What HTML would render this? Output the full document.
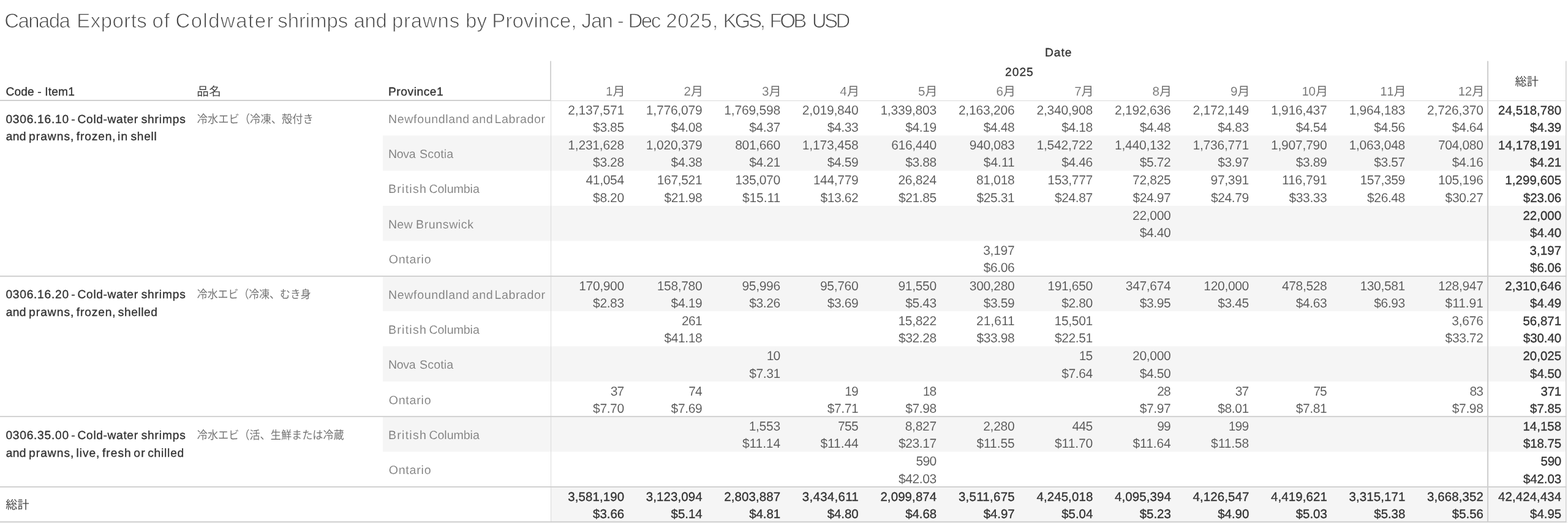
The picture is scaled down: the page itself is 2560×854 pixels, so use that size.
<!DOCTYPE html>
<html lang="en"><head><meta charset="utf-8"><title>Canada Exports of Coldwater shrimps and prawns by Province</title>
<style>
html,body{margin:0;padding:0;background:#fff;}
body{width:2560px;height:854px;overflow:hidden;}
svg{display:block;will-change:transform;}
svg text{font-family:"Liberation Sans",sans-serif;white-space:pre;text-rendering:geometricPrecision;}
svg text.cjk{font-family:"Liberation Sans","Noto Sans CJK JP",sans-serif;}
</style></head><body>
<svg width="2560" height="854" viewBox="0 0 2560 854">
<desc>Code - Item1 / 品名 / Province1 / Date 2025 1月–12月 / 総計. 冷水エビ（冷凍、殻付き; 冷水エビ（冷凍、むき身; 冷水エビ（活、生鮮または冷蔵</desc>
<rect x="625" y="221.36" width="1932" height="57.36" fill="#f5f5f5"/>
<rect x="625" y="336.08" width="1932" height="57.36" fill="#f5f5f5"/>
<rect x="625" y="450.8" width="1932" height="57.36" fill="#f5f5f5"/>
<rect x="625" y="565.52" width="1932" height="57.36" fill="#f5f5f5"/>
<rect x="625" y="680.24" width="1932" height="57.36" fill="#f5f5f5"/>
<rect x="899.5" y="794.96" width="1657.5" height="57.36" fill="#f5f5f5"/>
<rect x="0" y="853.1" width="2560" height="0.9" fill="#f7f7f7"/>
<rect x="898" y="99.6" width="2" height="64.4" fill="#d3d3d3"/>
<rect x="899" y="164" width="1" height="688.5" fill="#dadada"/>
<rect x="2428.1" y="99.6" width="2" height="752.9" fill="#cecece"/>
<rect x="2556" y="99.6" width="1.4" height="753.4" fill="#d0d0d0"/>
<rect x="2557.4" y="99.6" width="0.8" height="753.4" fill="#e6e6e6"/>
<rect x="0" y="163" width="899" height="2" fill="#cfcfcf"/>
<rect x="899" y="164" width="1658" height="1" fill="#dadada"/>
<rect x="0" y="450.08" width="2557.5" height="1.84" fill="#cecece"/>
<rect x="0" y="679.23" width="2557.5" height="1.84" fill="#cecece"/>
<rect x="0" y="794.13" width="2557.5" height="1.84" fill="#cecece"/>
<rect x="0" y="851.28" width="2557.5" height="1.84" fill="#cecece"/>
<text x="7.17" y="44.8" font-size="33" fill="#4a4a4a" textLength="107.68" lengthAdjust="spacing" stroke="#fff" stroke-width="0.9">Canada</text>
<text x="125.24" y="44.8" font-size="33" fill="#4a4a4a" textLength="114.6" lengthAdjust="spacing" stroke="#fff" stroke-width="0.9">Exports</text>
<text x="248.46" y="44.8" font-size="33" fill="#4a4a4a" textLength="28.54" lengthAdjust="spacing" stroke="#fff" stroke-width="0.9">of</text>
<text x="286.57" y="44.8" font-size="33" fill="#4a4a4a" textLength="159.82" lengthAdjust="spacing" stroke="#fff" stroke-width="0.9">Coldwater</text>
<text x="453.33" y="44.8" font-size="33" fill="#4a4a4a" textLength="114.91" lengthAdjust="spacing" stroke="#fff" stroke-width="0.9">shrimps</text>
<text x="577.45" y="44.8" font-size="33" fill="#4a4a4a" textLength="54.53" lengthAdjust="spacing" stroke="#fff" stroke-width="0.9">and</text>
<text x="639.92" y="44.8" font-size="33" fill="#4a4a4a" textLength="110.22" lengthAdjust="spacing" stroke="#fff" stroke-width="0.9">prawns</text>
<text x="759.92" y="44.8" font-size="33" fill="#4a4a4a" textLength="34.99" lengthAdjust="spacing" stroke="#fff" stroke-width="0.9">by</text>
<text x="803.34" y="44.8" font-size="33" fill="#4a4a4a" textLength="137.97" lengthAdjust="spacing" stroke="#fff" stroke-width="0.9">Province,</text>
<text x="949.33" y="44.8" font-size="33" fill="#4a4a4a" textLength="51.46" lengthAdjust="spacing" stroke="#fff" stroke-width="0.9">Jan</text>
<text x="1007.66" y="44.8" font-size="33" fill="#4a4a4a" stroke="#fff" stroke-width="0.9">-</text>
<text x="1025.54" y="44.8" font-size="33" fill="#4a4a4a" textLength="53.68" lengthAdjust="spacing" stroke="#fff" stroke-width="0.9">Dec</text>
<text x="1087.29" y="44.8" font-size="33" fill="#4a4a4a" textLength="84.92" lengthAdjust="spacing" stroke="#fff" stroke-width="0.9">2025,</text>
<text x="1180.54" y="44.8" font-size="33" fill="#4a4a4a" textLength="69.47" lengthAdjust="spacing" stroke="#fff" stroke-width="0.9">KGS,</text>
<text x="1256.54" y="44.8" font-size="33" fill="#4a4a4a" textLength="60.75" lengthAdjust="spacing" stroke="#fff" stroke-width="0.9">FOB</text>
<text x="1325.7" y="44.8" font-size="33" fill="#4a4a4a" textLength="62.63" lengthAdjust="spacing" stroke="#fff" stroke-width="0.9">USD</text>
<text x="9.4" y="156.2" font-size="19.2" fill="#333" textLength="112.45" lengthAdjust="spacing" stroke="#333" stroke-width="0.36">Code - Item1</text>
<text x="634" y="156.2" font-size="19.2" fill="#333" textLength="89.75" lengthAdjust="spacing" stroke="#333" stroke-width="0.36">Province1</text>
<text x="1706.01" y="92.3" font-size="19.2" fill="#333" textLength="43.47" lengthAdjust="spacing" stroke="#333" stroke-width="0.36">Date</text>
<text x="1641.11" y="124.2" font-size="19.2" fill="#333" textLength="45.61" lengthAdjust="spacing" stroke="#333" stroke-width="0.36">2025</text>
<text class="cjk" x="321.14" y="155.7" font-size="19.6" fill="#444" textLength="39.8" lengthAdjust="spacing">品名</text>
<text class="cjk" x="2473.54" y="139.9" font-size="19.2" fill="#444" textLength="38.5" lengthAdjust="spacing">総計</text>
<text class="cjk" x="1000.41" y="155.7" font-size="20" fill="#6c6c6c">月</text>
<text x="1000.4" y="156.1" font-size="20.5" fill="#6c6c6c" text-anchor="end" stroke="#fff" stroke-width="0.15">1</text>
<text class="cjk" x="1127.93" y="155.7" font-size="20" fill="#6c6c6c">月</text>
<text x="1127.95" y="156.1" font-size="20.5" fill="#6c6c6c" text-anchor="end" stroke="#fff" stroke-width="0.15">2</text>
<text class="cjk" x="1255.45" y="155.7" font-size="20" fill="#6c6c6c">月</text>
<text x="1255.34" y="156.1" font-size="20.5" fill="#6c6c6c" text-anchor="end" stroke="#fff" stroke-width="0.15">3</text>
<text class="cjk" x="1382.97" y="155.7" font-size="20" fill="#6c6c6c">月</text>
<text x="1382.56" y="156.1" font-size="20.5" fill="#6c6c6c" text-anchor="end" stroke="#fff" stroke-width="0.15">4</text>
<text class="cjk" x="1510.49" y="155.7" font-size="20" fill="#6c6c6c">月</text>
<text x="1510.34" y="156.1" font-size="20.5" fill="#6c6c6c" text-anchor="end" stroke="#fff" stroke-width="0.15">5</text>
<text class="cjk" x="1638.01" y="155.7" font-size="20" fill="#6c6c6c">月</text>
<text x="1637.9" y="156.1" font-size="20.5" fill="#6c6c6c" text-anchor="end" stroke="#fff" stroke-width="0.15">6</text>
<text class="cjk" x="1765.53" y="155.7" font-size="20" fill="#6c6c6c">月</text>
<text x="1765.55" y="156.1" font-size="20.5" fill="#6c6c6c" text-anchor="end" stroke="#fff" stroke-width="0.15">7</text>
<text class="cjk" x="1893.05" y="155.7" font-size="20" fill="#6c6c6c">月</text>
<text x="1892.93" y="156.1" font-size="20.5" fill="#6c6c6c" text-anchor="end" stroke="#fff" stroke-width="0.15">8</text>
<text class="cjk" x="2020.57" y="155.7" font-size="20" fill="#6c6c6c">月</text>
<text x="2020.53" y="156.1" font-size="20.5" fill="#6c6c6c" text-anchor="end" stroke="#fff" stroke-width="0.15">9</text>
<text class="cjk" x="2148.09" y="155.7" font-size="20" fill="#6c6c6c">月</text>
<text x="2147.88" y="156.1" font-size="20.5" fill="#6c6c6c" text-anchor="end" textLength="22.4" lengthAdjust="spacing" stroke="#fff" stroke-width="0.15">10</text>
<text class="cjk" x="2275.61" y="155.7" font-size="20" fill="#6c6c6c">月</text>
<text x="2275.6" y="156.1" font-size="20.5" fill="#6c6c6c" text-anchor="end" textLength="22.4" lengthAdjust="spacing" stroke="#fff" stroke-width="0.15">11</text>
<text class="cjk" x="2403.13" y="155.7" font-size="20" fill="#6c6c6c">月</text>
<text x="2403.15" y="156.1" font-size="20.5" fill="#6c6c6c" text-anchor="end" textLength="22.4" lengthAdjust="spacing" stroke="#fff" stroke-width="0.15">12</text>
<text x="9.43" y="200.6" font-size="19.2" fill="#333" textLength="102.64" lengthAdjust="spacing" stroke="#333" stroke-width="0.36">0306.16.10</text>
<text x="116.25" y="200.6" font-size="19.2" fill="#333" stroke="#333" stroke-width="0.36">-</text>
<text x="126.61" y="200.6" font-size="19.2" fill="#333" textLength="98.43" lengthAdjust="spacing" stroke="#333" stroke-width="0.36">Cold-water</text>
<text x="230.65" y="200.6" font-size="19.2" fill="#333" textLength="72.17" lengthAdjust="spacing" stroke="#333" stroke-width="0.36">shrimps</text>
<text x="9.76" y="229.3" font-size="19.2" fill="#333" textLength="32.69" lengthAdjust="spacing" stroke="#333" stroke-width="0.36">and</text>
<text x="47.04" y="229.3" font-size="19.2" fill="#333" textLength="73.3" lengthAdjust="spacing" stroke="#333" stroke-width="0.36">prawns,</text>
<text x="124.81" y="229.3" font-size="19.2" fill="#333" textLength="63.84" lengthAdjust="spacing" stroke="#333" stroke-width="0.36">frozen,</text>
<text x="192.1" y="229.3" font-size="19.2" fill="#333" textLength="16.17" lengthAdjust="spacing" stroke="#333" stroke-width="0.36">in</text>
<text x="213.55" y="229.3" font-size="19.2" fill="#333" textLength="42.26" lengthAdjust="spacing" stroke="#333" stroke-width="0.36">shell</text>
<text class="cjk" x="321.75" y="200.6" font-size="18.8" fill="#747474" textLength="190" lengthAdjust="spacingAndGlyphs">冷水エビ（冷凍、殻付き</text>
<text x="9.43" y="487.4" font-size="19.2" fill="#333" textLength="102.64" lengthAdjust="spacing" stroke="#333" stroke-width="0.36">0306.16.20</text>
<text x="116.25" y="487.4" font-size="19.2" fill="#333" stroke="#333" stroke-width="0.36">-</text>
<text x="126.61" y="487.4" font-size="19.2" fill="#333" textLength="98.43" lengthAdjust="spacing" stroke="#333" stroke-width="0.36">Cold-water</text>
<text x="230.65" y="487.4" font-size="19.2" fill="#333" textLength="72.17" lengthAdjust="spacing" stroke="#333" stroke-width="0.36">shrimps</text>
<text x="9.76" y="516.1" font-size="19.2" fill="#333" textLength="32.69" lengthAdjust="spacing" stroke="#333" stroke-width="0.36">and</text>
<text x="47.04" y="516.1" font-size="19.2" fill="#333" textLength="73.3" lengthAdjust="spacing" stroke="#333" stroke-width="0.36">prawns,</text>
<text x="124.81" y="516.1" font-size="19.2" fill="#333" textLength="63.84" lengthAdjust="spacing" stroke="#333" stroke-width="0.36">frozen,</text>
<text x="192.85" y="516.1" font-size="19.2" fill="#333" textLength="64.11" lengthAdjust="spacing" stroke="#333" stroke-width="0.36">shelled</text>
<text class="cjk" x="321.75" y="487.4" font-size="18.8" fill="#747474" textLength="186" lengthAdjust="spacingAndGlyphs">冷水エビ（冷凍、むき身</text>
<text x="9.43" y="716.84" font-size="19.2" fill="#333" textLength="102.64" lengthAdjust="spacing" stroke="#333" stroke-width="0.36">0306.35.00</text>
<text x="116.25" y="716.84" font-size="19.2" fill="#333" stroke="#333" stroke-width="0.36">-</text>
<text x="126.61" y="716.84" font-size="19.2" fill="#333" textLength="98.43" lengthAdjust="spacing" stroke="#333" stroke-width="0.36">Cold-water</text>
<text x="230.65" y="716.84" font-size="19.2" fill="#333" textLength="72.17" lengthAdjust="spacing" stroke="#333" stroke-width="0.36">shrimps</text>
<text x="9.76" y="745.54" font-size="19.2" fill="#333" textLength="32.69" lengthAdjust="spacing" stroke="#333" stroke-width="0.36">and</text>
<text x="47.04" y="745.54" font-size="19.2" fill="#333" textLength="73.3" lengthAdjust="spacing" stroke="#333" stroke-width="0.36">prawns,</text>
<text x="124.39" y="745.54" font-size="19.2" fill="#333" textLength="38.06" lengthAdjust="spacing" stroke="#333" stroke-width="0.36">live,</text>
<text x="166.91" y="745.54" font-size="19.2" fill="#333" textLength="46.86" lengthAdjust="spacing" stroke="#333" stroke-width="0.36">fresh</text>
<text x="218.17" y="745.54" font-size="19.2" fill="#333" textLength="18.36" lengthAdjust="spacing" stroke="#333" stroke-width="0.36">or</text>
<text x="241.26" y="745.54" font-size="19.2" fill="#333" textLength="58.99" lengthAdjust="spacing" stroke="#333" stroke-width="0.36">chilled</text>
<text class="cjk" x="321.75" y="716.84" font-size="18.8" fill="#747474" textLength="240" lengthAdjust="spacingAndGlyphs">冷水エビ（活、生鮮または冷蔵</text>
<text x="633.97" y="200.7" font-size="19.6" fill="#7a7a7a" textLength="132.22" lengthAdjust="spacing" stroke="#fff" stroke-width="0.15">Newfoundland</text>
<text x="770.84" y="200.7" font-size="19.6" fill="#7a7a7a" textLength="33.85" lengthAdjust="spacing" stroke="#fff" stroke-width="0.15">and</text>
<text x="807.47" y="200.7" font-size="19.6" fill="#7a7a7a" textLength="82.58" lengthAdjust="spacing" stroke="#fff" stroke-width="0.15">Labrador</text>
<text x="633.97" y="258.06" font-size="19.6" fill="#7a7a7a" textLength="44.76" lengthAdjust="spacing" stroke="#f5f5f5" stroke-width="0.15">Nova</text>
<text x="685.08" y="258.06" font-size="19.6" fill="#7a7a7a" textLength="55.14" lengthAdjust="spacing" stroke="#f5f5f5" stroke-width="0.15">Scotia</text>
<text x="633.97" y="315.42" font-size="19.6" fill="#7a7a7a" textLength="61.93" lengthAdjust="spacing" stroke="#fff" stroke-width="0.15">British</text>
<text x="700.38" y="315.42" font-size="19.6" fill="#7a7a7a" textLength="82.45" lengthAdjust="spacing" stroke="#fff" stroke-width="0.15">Columbia</text>
<text x="633.97" y="372.78" font-size="19.6" fill="#7a7a7a" textLength="39.61" lengthAdjust="spacing" stroke="#f5f5f5" stroke-width="0.15">New</text>
<text x="678.97" y="372.78" font-size="19.6" fill="#7a7a7a" textLength="94.03" lengthAdjust="spacing" stroke="#f5f5f5" stroke-width="0.15">Brunswick</text>
<text x="634.65" y="430.14" font-size="19.6" fill="#7a7a7a" textLength="69" lengthAdjust="spacing" stroke="#fff" stroke-width="0.15">Ontario</text>
<text x="633.97" y="487.5" font-size="19.6" fill="#7a7a7a" textLength="132.22" lengthAdjust="spacing" stroke="#f5f5f5" stroke-width="0.15">Newfoundland</text>
<text x="770.84" y="487.5" font-size="19.6" fill="#7a7a7a" textLength="33.85" lengthAdjust="spacing" stroke="#f5f5f5" stroke-width="0.15">and</text>
<text x="807.47" y="487.5" font-size="19.6" fill="#7a7a7a" textLength="82.58" lengthAdjust="spacing" stroke="#f5f5f5" stroke-width="0.15">Labrador</text>
<text x="633.97" y="544.86" font-size="19.6" fill="#7a7a7a" textLength="61.93" lengthAdjust="spacing" stroke="#fff" stroke-width="0.15">British</text>
<text x="700.38" y="544.86" font-size="19.6" fill="#7a7a7a" textLength="82.45" lengthAdjust="spacing" stroke="#fff" stroke-width="0.15">Columbia</text>
<text x="633.97" y="602.22" font-size="19.6" fill="#7a7a7a" textLength="44.76" lengthAdjust="spacing" stroke="#f5f5f5" stroke-width="0.15">Nova</text>
<text x="685.08" y="602.22" font-size="19.6" fill="#7a7a7a" textLength="55.14" lengthAdjust="spacing" stroke="#f5f5f5" stroke-width="0.15">Scotia</text>
<text x="634.65" y="659.58" font-size="19.6" fill="#7a7a7a" textLength="69" lengthAdjust="spacing" stroke="#fff" stroke-width="0.15">Ontario</text>
<text x="633.97" y="716.94" font-size="19.6" fill="#7a7a7a" textLength="61.93" lengthAdjust="spacing" stroke="#f5f5f5" stroke-width="0.15">British</text>
<text x="700.38" y="716.94" font-size="19.6" fill="#7a7a7a" textLength="82.45" lengthAdjust="spacing" stroke="#f5f5f5" stroke-width="0.15">Columbia</text>
<text x="634.65" y="774.3" font-size="19.6" fill="#7a7a7a" textLength="69" lengthAdjust="spacing" stroke="#fff" stroke-width="0.15">Ontario</text>
<text class="cjk" x="9.3" y="831.4" font-size="19.2" fill="#444" textLength="38.4" lengthAdjust="spacing">総計</text>
<text x="1019.1" y="186.7" font-size="21" fill="#4f4f4f" text-anchor="end" textLength="91.8" lengthAdjust="spacing" stroke="#fff" stroke-width="0.15">2,137,571</text>
<text x="1146.62" y="186.7" font-size="21" fill="#4f4f4f" text-anchor="end" textLength="91.8" lengthAdjust="spacing" stroke="#fff" stroke-width="0.15">1,776,079</text>
<text x="1274.14" y="186.7" font-size="21" fill="#4f4f4f" text-anchor="end" textLength="91.8" lengthAdjust="spacing" stroke="#fff" stroke-width="0.15">1,769,598</text>
<text x="1401.66" y="186.7" font-size="21" fill="#4f4f4f" text-anchor="end" textLength="91.8" lengthAdjust="spacing" stroke="#fff" stroke-width="0.15">2,019,840</text>
<text x="1529.18" y="186.7" font-size="21" fill="#4f4f4f" text-anchor="end" textLength="91.8" lengthAdjust="spacing" stroke="#fff" stroke-width="0.15">1,339,803</text>
<text x="1656.7" y="186.7" font-size="21" fill="#4f4f4f" text-anchor="end" textLength="91.8" lengthAdjust="spacing" stroke="#fff" stroke-width="0.15">2,163,206</text>
<text x="1784.22" y="186.7" font-size="21" fill="#4f4f4f" text-anchor="end" textLength="91.8" lengthAdjust="spacing" stroke="#fff" stroke-width="0.15">2,340,908</text>
<text x="1911.74" y="186.7" font-size="21" fill="#4f4f4f" text-anchor="end" textLength="91.8" lengthAdjust="spacing" stroke="#fff" stroke-width="0.15">2,192,636</text>
<text x="2039.26" y="186.7" font-size="21" fill="#4f4f4f" text-anchor="end" textLength="91.8" lengthAdjust="spacing" stroke="#fff" stroke-width="0.15">2,172,149</text>
<text x="2166.78" y="186.7" font-size="21" fill="#4f4f4f" text-anchor="end" textLength="91.8" lengthAdjust="spacing" stroke="#fff" stroke-width="0.15">1,916,437</text>
<text x="2294.3" y="186.7" font-size="21" fill="#4f4f4f" text-anchor="end" textLength="91.8" lengthAdjust="spacing" stroke="#fff" stroke-width="0.15">1,964,183</text>
<text x="2421.82" y="186.7" font-size="21" fill="#4f4f4f" text-anchor="end" textLength="91.8" lengthAdjust="spacing" stroke="#fff" stroke-width="0.15">2,726,370</text>
<text x="2549.1" y="186.7" font-size="20.4" fill="#333" text-anchor="end" textLength="103" lengthAdjust="spacing" stroke="#333" stroke-width="0.36">24,518,780</text>
<text x="1019.1" y="215" font-size="21" fill="#4f4f4f" text-anchor="end" textLength="51" lengthAdjust="spacing" stroke="#fff" stroke-width="0.15">$3.85</text>
<text x="1146.62" y="215" font-size="21" fill="#4f4f4f" text-anchor="end" textLength="51" lengthAdjust="spacing" stroke="#fff" stroke-width="0.15">$4.08</text>
<text x="1274.14" y="215" font-size="21" fill="#4f4f4f" text-anchor="end" textLength="51" lengthAdjust="spacing" stroke="#fff" stroke-width="0.15">$4.37</text>
<text x="1401.66" y="215" font-size="21" fill="#4f4f4f" text-anchor="end" textLength="51" lengthAdjust="spacing" stroke="#fff" stroke-width="0.15">$4.33</text>
<text x="1529.18" y="215" font-size="21" fill="#4f4f4f" text-anchor="end" textLength="51" lengthAdjust="spacing" stroke="#fff" stroke-width="0.15">$4.19</text>
<text x="1656.7" y="215" font-size="21" fill="#4f4f4f" text-anchor="end" textLength="51" lengthAdjust="spacing" stroke="#fff" stroke-width="0.15">$4.48</text>
<text x="1784.22" y="215" font-size="21" fill="#4f4f4f" text-anchor="end" textLength="51" lengthAdjust="spacing" stroke="#fff" stroke-width="0.15">$4.18</text>
<text x="1911.74" y="215" font-size="21" fill="#4f4f4f" text-anchor="end" textLength="51" lengthAdjust="spacing" stroke="#fff" stroke-width="0.15">$4.48</text>
<text x="2039.26" y="215" font-size="21" fill="#4f4f4f" text-anchor="end" textLength="51" lengthAdjust="spacing" stroke="#fff" stroke-width="0.15">$4.83</text>
<text x="2166.78" y="215" font-size="21" fill="#4f4f4f" text-anchor="end" textLength="51" lengthAdjust="spacing" stroke="#fff" stroke-width="0.15">$4.54</text>
<text x="2294.3" y="215" font-size="21" fill="#4f4f4f" text-anchor="end" textLength="51" lengthAdjust="spacing" stroke="#fff" stroke-width="0.15">$4.56</text>
<text x="2421.82" y="215" font-size="21" fill="#4f4f4f" text-anchor="end" textLength="51" lengthAdjust="spacing" stroke="#fff" stroke-width="0.15">$4.64</text>
<text x="2549.1" y="215" font-size="20.4" fill="#333" text-anchor="end" textLength="51" lengthAdjust="spacing" stroke="#333" stroke-width="0.36">$4.39</text>
<text x="1019.1" y="244.06" font-size="21" fill="#4f4f4f" text-anchor="end" textLength="91.8" lengthAdjust="spacing" stroke="#f5f5f5" stroke-width="0.15">1,231,628</text>
<text x="1146.62" y="244.06" font-size="21" fill="#4f4f4f" text-anchor="end" textLength="91.8" lengthAdjust="spacing" stroke="#f5f5f5" stroke-width="0.15">1,020,379</text>
<text x="1274.14" y="244.06" font-size="21" fill="#4f4f4f" text-anchor="end" textLength="73.9" lengthAdjust="spacing" stroke="#f5f5f5" stroke-width="0.15">801,660</text>
<text x="1401.66" y="244.06" font-size="21" fill="#4f4f4f" text-anchor="end" textLength="91.8" lengthAdjust="spacing" stroke="#f5f5f5" stroke-width="0.15">1,173,458</text>
<text x="1529.18" y="244.06" font-size="21" fill="#4f4f4f" text-anchor="end" textLength="73.9" lengthAdjust="spacing" stroke="#f5f5f5" stroke-width="0.15">616,440</text>
<text x="1656.7" y="244.06" font-size="21" fill="#4f4f4f" text-anchor="end" textLength="73.9" lengthAdjust="spacing" stroke="#f5f5f5" stroke-width="0.15">940,083</text>
<text x="1784.22" y="244.06" font-size="21" fill="#4f4f4f" text-anchor="end" textLength="91.8" lengthAdjust="spacing" stroke="#f5f5f5" stroke-width="0.15">1,542,722</text>
<text x="1911.74" y="244.06" font-size="21" fill="#4f4f4f" text-anchor="end" textLength="91.8" lengthAdjust="spacing" stroke="#f5f5f5" stroke-width="0.15">1,440,132</text>
<text x="2039.26" y="244.06" font-size="21" fill="#4f4f4f" text-anchor="end" textLength="91.8" lengthAdjust="spacing" stroke="#f5f5f5" stroke-width="0.15">1,736,771</text>
<text x="2166.78" y="244.06" font-size="21" fill="#4f4f4f" text-anchor="end" textLength="91.8" lengthAdjust="spacing" stroke="#f5f5f5" stroke-width="0.15">1,907,790</text>
<text x="2294.3" y="244.06" font-size="21" fill="#4f4f4f" text-anchor="end" textLength="91.8" lengthAdjust="spacing" stroke="#f5f5f5" stroke-width="0.15">1,063,048</text>
<text x="2421.82" y="244.06" font-size="21" fill="#4f4f4f" text-anchor="end" textLength="73.9" lengthAdjust="spacing" stroke="#f5f5f5" stroke-width="0.15">704,080</text>
<text x="2549.1" y="244.06" font-size="20.4" fill="#333" text-anchor="end" textLength="103" lengthAdjust="spacing" stroke="#333" stroke-width="0.36">14,178,191</text>
<text x="1019.1" y="272.36" font-size="21" fill="#4f4f4f" text-anchor="end" textLength="51" lengthAdjust="spacing" stroke="#f5f5f5" stroke-width="0.15">$3.28</text>
<text x="1146.62" y="272.36" font-size="21" fill="#4f4f4f" text-anchor="end" textLength="51" lengthAdjust="spacing" stroke="#f5f5f5" stroke-width="0.15">$4.38</text>
<text x="1274.14" y="272.36" font-size="21" fill="#4f4f4f" text-anchor="end" textLength="51" lengthAdjust="spacing" stroke="#f5f5f5" stroke-width="0.15">$4.21</text>
<text x="1401.66" y="272.36" font-size="21" fill="#4f4f4f" text-anchor="end" textLength="51" lengthAdjust="spacing" stroke="#f5f5f5" stroke-width="0.15">$4.59</text>
<text x="1529.18" y="272.36" font-size="21" fill="#4f4f4f" text-anchor="end" textLength="51" lengthAdjust="spacing" stroke="#f5f5f5" stroke-width="0.15">$3.88</text>
<text x="1656.7" y="272.36" font-size="21" fill="#4f4f4f" text-anchor="end" textLength="51" lengthAdjust="spacing" stroke="#f5f5f5" stroke-width="0.15">$4.11</text>
<text x="1784.22" y="272.36" font-size="21" fill="#4f4f4f" text-anchor="end" textLength="51" lengthAdjust="spacing" stroke="#f5f5f5" stroke-width="0.15">$4.46</text>
<text x="1911.74" y="272.36" font-size="21" fill="#4f4f4f" text-anchor="end" textLength="51" lengthAdjust="spacing" stroke="#f5f5f5" stroke-width="0.15">$5.72</text>
<text x="2039.26" y="272.36" font-size="21" fill="#4f4f4f" text-anchor="end" textLength="51" lengthAdjust="spacing" stroke="#f5f5f5" stroke-width="0.15">$3.97</text>
<text x="2166.78" y="272.36" font-size="21" fill="#4f4f4f" text-anchor="end" textLength="51" lengthAdjust="spacing" stroke="#f5f5f5" stroke-width="0.15">$3.89</text>
<text x="2294.3" y="272.36" font-size="21" fill="#4f4f4f" text-anchor="end" textLength="51" lengthAdjust="spacing" stroke="#f5f5f5" stroke-width="0.15">$3.57</text>
<text x="2421.82" y="272.36" font-size="21" fill="#4f4f4f" text-anchor="end" textLength="51" lengthAdjust="spacing" stroke="#f5f5f5" stroke-width="0.15">$4.16</text>
<text x="2549.1" y="272.36" font-size="20.4" fill="#333" text-anchor="end" textLength="51" lengthAdjust="spacing" stroke="#333" stroke-width="0.36">$4.21</text>
<text x="1019.1" y="301.42" font-size="21" fill="#4f4f4f" text-anchor="end" textLength="62.7" lengthAdjust="spacing" stroke="#fff" stroke-width="0.15">41,054</text>
<text x="1146.62" y="301.42" font-size="21" fill="#4f4f4f" text-anchor="end" textLength="73.9" lengthAdjust="spacing" stroke="#fff" stroke-width="0.15">167,521</text>
<text x="1274.14" y="301.42" font-size="21" fill="#4f4f4f" text-anchor="end" textLength="73.9" lengthAdjust="spacing" stroke="#fff" stroke-width="0.15">135,070</text>
<text x="1401.66" y="301.42" font-size="21" fill="#4f4f4f" text-anchor="end" textLength="73.9" lengthAdjust="spacing" stroke="#fff" stroke-width="0.15">144,779</text>
<text x="1529.18" y="301.42" font-size="21" fill="#4f4f4f" text-anchor="end" textLength="62.7" lengthAdjust="spacing" stroke="#fff" stroke-width="0.15">26,824</text>
<text x="1656.7" y="301.42" font-size="21" fill="#4f4f4f" text-anchor="end" textLength="62.7" lengthAdjust="spacing" stroke="#fff" stroke-width="0.15">81,018</text>
<text x="1784.22" y="301.42" font-size="21" fill="#4f4f4f" text-anchor="end" textLength="73.9" lengthAdjust="spacing" stroke="#fff" stroke-width="0.15">153,777</text>
<text x="1911.74" y="301.42" font-size="21" fill="#4f4f4f" text-anchor="end" textLength="62.7" lengthAdjust="spacing" stroke="#fff" stroke-width="0.15">72,825</text>
<text x="2039.26" y="301.42" font-size="21" fill="#4f4f4f" text-anchor="end" textLength="62.7" lengthAdjust="spacing" stroke="#fff" stroke-width="0.15">97,391</text>
<text x="2166.78" y="301.42" font-size="21" fill="#4f4f4f" text-anchor="end" textLength="73.9" lengthAdjust="spacing" stroke="#fff" stroke-width="0.15">116,791</text>
<text x="2294.3" y="301.42" font-size="21" fill="#4f4f4f" text-anchor="end" textLength="73.9" lengthAdjust="spacing" stroke="#fff" stroke-width="0.15">157,359</text>
<text x="2421.82" y="301.42" font-size="21" fill="#4f4f4f" text-anchor="end" textLength="73.9" lengthAdjust="spacing" stroke="#fff" stroke-width="0.15">105,196</text>
<text x="2549.1" y="301.42" font-size="20.4" fill="#333" text-anchor="end" textLength="91.8" lengthAdjust="spacing" stroke="#333" stroke-width="0.36">1,299,605</text>
<text x="1019.1" y="329.72" font-size="21" fill="#4f4f4f" text-anchor="end" textLength="51" lengthAdjust="spacing" stroke="#fff" stroke-width="0.15">$8.20</text>
<text x="1146.62" y="329.72" font-size="21" fill="#4f4f4f" text-anchor="end" textLength="62.2" lengthAdjust="spacing" stroke="#fff" stroke-width="0.15">$21.98</text>
<text x="1274.14" y="329.72" font-size="21" fill="#4f4f4f" text-anchor="end" textLength="62.2" lengthAdjust="spacing" stroke="#fff" stroke-width="0.15">$15.11</text>
<text x="1401.66" y="329.72" font-size="21" fill="#4f4f4f" text-anchor="end" textLength="62.2" lengthAdjust="spacing" stroke="#fff" stroke-width="0.15">$13.62</text>
<text x="1529.18" y="329.72" font-size="21" fill="#4f4f4f" text-anchor="end" textLength="62.2" lengthAdjust="spacing" stroke="#fff" stroke-width="0.15">$21.85</text>
<text x="1656.7" y="329.72" font-size="21" fill="#4f4f4f" text-anchor="end" textLength="62.2" lengthAdjust="spacing" stroke="#fff" stroke-width="0.15">$25.31</text>
<text x="1784.22" y="329.72" font-size="21" fill="#4f4f4f" text-anchor="end" textLength="62.2" lengthAdjust="spacing" stroke="#fff" stroke-width="0.15">$24.87</text>
<text x="1911.74" y="329.72" font-size="21" fill="#4f4f4f" text-anchor="end" textLength="62.2" lengthAdjust="spacing" stroke="#fff" stroke-width="0.15">$24.97</text>
<text x="2039.26" y="329.72" font-size="21" fill="#4f4f4f" text-anchor="end" textLength="62.2" lengthAdjust="spacing" stroke="#fff" stroke-width="0.15">$24.79</text>
<text x="2166.78" y="329.72" font-size="21" fill="#4f4f4f" text-anchor="end" textLength="62.2" lengthAdjust="spacing" stroke="#fff" stroke-width="0.15">$33.33</text>
<text x="2294.3" y="329.72" font-size="21" fill="#4f4f4f" text-anchor="end" textLength="62.2" lengthAdjust="spacing" stroke="#fff" stroke-width="0.15">$26.48</text>
<text x="2421.82" y="329.72" font-size="21" fill="#4f4f4f" text-anchor="end" textLength="62.2" lengthAdjust="spacing" stroke="#fff" stroke-width="0.15">$30.27</text>
<text x="2549.1" y="329.72" font-size="20.4" fill="#333" text-anchor="end" textLength="62.2" lengthAdjust="spacing" stroke="#333" stroke-width="0.36">$23.06</text>
<text x="1911.74" y="358.78" font-size="21" fill="#4f4f4f" text-anchor="end" textLength="62.7" lengthAdjust="spacing" stroke="#f5f5f5" stroke-width="0.15">22,000</text>
<text x="2549.1" y="358.78" font-size="20.4" fill="#333" text-anchor="end" textLength="62.7" lengthAdjust="spacing" stroke="#333" stroke-width="0.36">22,000</text>
<text x="1911.74" y="387.08" font-size="21" fill="#4f4f4f" text-anchor="end" textLength="51" lengthAdjust="spacing" stroke="#f5f5f5" stroke-width="0.15">$4.40</text>
<text x="2549.1" y="387.08" font-size="20.4" fill="#333" text-anchor="end" textLength="51" lengthAdjust="spacing" stroke="#333" stroke-width="0.36">$4.40</text>
<text x="1656.7" y="416.14" font-size="21" fill="#4f4f4f" text-anchor="end" textLength="51.5" lengthAdjust="spacing" stroke="#fff" stroke-width="0.15">3,197</text>
<text x="2549.1" y="416.14" font-size="20.4" fill="#333" text-anchor="end" textLength="51.5" lengthAdjust="spacing" stroke="#333" stroke-width="0.36">3,197</text>
<text x="1656.7" y="444.44" font-size="21" fill="#4f4f4f" text-anchor="end" textLength="51" lengthAdjust="spacing" stroke="#fff" stroke-width="0.15">$6.06</text>
<text x="2549.1" y="444.44" font-size="20.4" fill="#333" text-anchor="end" textLength="51" lengthAdjust="spacing" stroke="#333" stroke-width="0.36">$6.06</text>
<text x="1019.1" y="473.5" font-size="21" fill="#4f4f4f" text-anchor="end" textLength="73.9" lengthAdjust="spacing" stroke="#f5f5f5" stroke-width="0.15">170,900</text>
<text x="1146.62" y="473.5" font-size="21" fill="#4f4f4f" text-anchor="end" textLength="73.9" lengthAdjust="spacing" stroke="#f5f5f5" stroke-width="0.15">158,780</text>
<text x="1274.14" y="473.5" font-size="21" fill="#4f4f4f" text-anchor="end" textLength="62.7" lengthAdjust="spacing" stroke="#f5f5f5" stroke-width="0.15">95,996</text>
<text x="1401.66" y="473.5" font-size="21" fill="#4f4f4f" text-anchor="end" textLength="62.7" lengthAdjust="spacing" stroke="#f5f5f5" stroke-width="0.15">95,760</text>
<text x="1529.18" y="473.5" font-size="21" fill="#4f4f4f" text-anchor="end" textLength="62.7" lengthAdjust="spacing" stroke="#f5f5f5" stroke-width="0.15">91,550</text>
<text x="1656.7" y="473.5" font-size="21" fill="#4f4f4f" text-anchor="end" textLength="73.9" lengthAdjust="spacing" stroke="#f5f5f5" stroke-width="0.15">300,280</text>
<text x="1784.22" y="473.5" font-size="21" fill="#4f4f4f" text-anchor="end" textLength="73.9" lengthAdjust="spacing" stroke="#f5f5f5" stroke-width="0.15">191,650</text>
<text x="1911.74" y="473.5" font-size="21" fill="#4f4f4f" text-anchor="end" textLength="73.9" lengthAdjust="spacing" stroke="#f5f5f5" stroke-width="0.15">347,674</text>
<text x="2039.26" y="473.5" font-size="21" fill="#4f4f4f" text-anchor="end" textLength="73.9" lengthAdjust="spacing" stroke="#f5f5f5" stroke-width="0.15">120,000</text>
<text x="2166.78" y="473.5" font-size="21" fill="#4f4f4f" text-anchor="end" textLength="73.9" lengthAdjust="spacing" stroke="#f5f5f5" stroke-width="0.15">478,528</text>
<text x="2294.3" y="473.5" font-size="21" fill="#4f4f4f" text-anchor="end" textLength="73.9" lengthAdjust="spacing" stroke="#f5f5f5" stroke-width="0.15">130,581</text>
<text x="2421.82" y="473.5" font-size="21" fill="#4f4f4f" text-anchor="end" textLength="73.9" lengthAdjust="spacing" stroke="#f5f5f5" stroke-width="0.15">128,947</text>
<text x="2549.1" y="473.5" font-size="20.4" fill="#333" text-anchor="end" textLength="91.8" lengthAdjust="spacing" stroke="#333" stroke-width="0.36">2,310,646</text>
<text x="1019.1" y="501.8" font-size="21" fill="#4f4f4f" text-anchor="end" textLength="51" lengthAdjust="spacing" stroke="#f5f5f5" stroke-width="0.15">$2.83</text>
<text x="1146.62" y="501.8" font-size="21" fill="#4f4f4f" text-anchor="end" textLength="51" lengthAdjust="spacing" stroke="#f5f5f5" stroke-width="0.15">$4.19</text>
<text x="1274.14" y="501.8" font-size="21" fill="#4f4f4f" text-anchor="end" textLength="51" lengthAdjust="spacing" stroke="#f5f5f5" stroke-width="0.15">$3.26</text>
<text x="1401.66" y="501.8" font-size="21" fill="#4f4f4f" text-anchor="end" textLength="51" lengthAdjust="spacing" stroke="#f5f5f5" stroke-width="0.15">$3.69</text>
<text x="1529.18" y="501.8" font-size="21" fill="#4f4f4f" text-anchor="end" textLength="51" lengthAdjust="spacing" stroke="#f5f5f5" stroke-width="0.15">$5.43</text>
<text x="1656.7" y="501.8" font-size="21" fill="#4f4f4f" text-anchor="end" textLength="51" lengthAdjust="spacing" stroke="#f5f5f5" stroke-width="0.15">$3.59</text>
<text x="1784.22" y="501.8" font-size="21" fill="#4f4f4f" text-anchor="end" textLength="51" lengthAdjust="spacing" stroke="#f5f5f5" stroke-width="0.15">$2.80</text>
<text x="1911.74" y="501.8" font-size="21" fill="#4f4f4f" text-anchor="end" textLength="51" lengthAdjust="spacing" stroke="#f5f5f5" stroke-width="0.15">$3.95</text>
<text x="2039.26" y="501.8" font-size="21" fill="#4f4f4f" text-anchor="end" textLength="51" lengthAdjust="spacing" stroke="#f5f5f5" stroke-width="0.15">$3.45</text>
<text x="2166.78" y="501.8" font-size="21" fill="#4f4f4f" text-anchor="end" textLength="51" lengthAdjust="spacing" stroke="#f5f5f5" stroke-width="0.15">$4.63</text>
<text x="2294.3" y="501.8" font-size="21" fill="#4f4f4f" text-anchor="end" textLength="51" lengthAdjust="spacing" stroke="#f5f5f5" stroke-width="0.15">$6.93</text>
<text x="2421.82" y="501.8" font-size="21" fill="#4f4f4f" text-anchor="end" textLength="62.2" lengthAdjust="spacing" stroke="#f5f5f5" stroke-width="0.15">$11.91</text>
<text x="2549.1" y="501.8" font-size="20.4" fill="#333" text-anchor="end" textLength="51" lengthAdjust="spacing" stroke="#333" stroke-width="0.36">$4.49</text>
<text x="1146.62" y="530.86" font-size="21" fill="#4f4f4f" text-anchor="end" textLength="33.6" lengthAdjust="spacing" stroke="#fff" stroke-width="0.15">261</text>
<text x="1529.18" y="530.86" font-size="21" fill="#4f4f4f" text-anchor="end" textLength="62.7" lengthAdjust="spacing" stroke="#fff" stroke-width="0.15">15,822</text>
<text x="1656.7" y="530.86" font-size="21" fill="#4f4f4f" text-anchor="end" textLength="62.7" lengthAdjust="spacing" stroke="#fff" stroke-width="0.15">21,611</text>
<text x="1784.22" y="530.86" font-size="21" fill="#4f4f4f" text-anchor="end" textLength="62.7" lengthAdjust="spacing" stroke="#fff" stroke-width="0.15">15,501</text>
<text x="2421.82" y="530.86" font-size="21" fill="#4f4f4f" text-anchor="end" textLength="51.5" lengthAdjust="spacing" stroke="#fff" stroke-width="0.15">3,676</text>
<text x="2549.1" y="530.86" font-size="20.4" fill="#333" text-anchor="end" textLength="62.7" lengthAdjust="spacing" stroke="#333" stroke-width="0.36">56,871</text>
<text x="1146.62" y="559.16" font-size="21" fill="#4f4f4f" text-anchor="end" textLength="62.2" lengthAdjust="spacing" stroke="#fff" stroke-width="0.15">$41.18</text>
<text x="1529.18" y="559.16" font-size="21" fill="#4f4f4f" text-anchor="end" textLength="62.2" lengthAdjust="spacing" stroke="#fff" stroke-width="0.15">$32.28</text>
<text x="1656.7" y="559.16" font-size="21" fill="#4f4f4f" text-anchor="end" textLength="62.2" lengthAdjust="spacing" stroke="#fff" stroke-width="0.15">$33.98</text>
<text x="1784.22" y="559.16" font-size="21" fill="#4f4f4f" text-anchor="end" textLength="62.2" lengthAdjust="spacing" stroke="#fff" stroke-width="0.15">$22.51</text>
<text x="2421.82" y="559.16" font-size="21" fill="#4f4f4f" text-anchor="end" textLength="62.2" lengthAdjust="spacing" stroke="#fff" stroke-width="0.15">$33.72</text>
<text x="2549.1" y="559.16" font-size="20.4" fill="#333" text-anchor="end" textLength="62.2" lengthAdjust="spacing" stroke="#333" stroke-width="0.36">$30.40</text>
<text x="1274.14" y="588.22" font-size="21" fill="#4f4f4f" text-anchor="end" textLength="22.4" lengthAdjust="spacing" stroke="#f5f5f5" stroke-width="0.15">10</text>
<text x="1784.22" y="588.22" font-size="21" fill="#4f4f4f" text-anchor="end" textLength="22.4" lengthAdjust="spacing" stroke="#f5f5f5" stroke-width="0.15">15</text>
<text x="1911.74" y="588.22" font-size="21" fill="#4f4f4f" text-anchor="end" textLength="62.7" lengthAdjust="spacing" stroke="#f5f5f5" stroke-width="0.15">20,000</text>
<text x="2549.1" y="588.22" font-size="20.4" fill="#333" text-anchor="end" textLength="62.7" lengthAdjust="spacing" stroke="#333" stroke-width="0.36">20,025</text>
<text x="1274.14" y="616.52" font-size="21" fill="#4f4f4f" text-anchor="end" textLength="51" lengthAdjust="spacing" stroke="#f5f5f5" stroke-width="0.15">$7.31</text>
<text x="1784.22" y="616.52" font-size="21" fill="#4f4f4f" text-anchor="end" textLength="51" lengthAdjust="spacing" stroke="#f5f5f5" stroke-width="0.15">$7.64</text>
<text x="1911.74" y="616.52" font-size="21" fill="#4f4f4f" text-anchor="end" textLength="51" lengthAdjust="spacing" stroke="#f5f5f5" stroke-width="0.15">$4.50</text>
<text x="2549.1" y="616.52" font-size="20.4" fill="#333" text-anchor="end" textLength="51" lengthAdjust="spacing" stroke="#333" stroke-width="0.36">$4.50</text>
<text x="1019.1" y="645.58" font-size="21" fill="#4f4f4f" text-anchor="end" textLength="22.4" lengthAdjust="spacing" stroke="#fff" stroke-width="0.15">37</text>
<text x="1146.62" y="645.58" font-size="21" fill="#4f4f4f" text-anchor="end" textLength="22.4" lengthAdjust="spacing" stroke="#fff" stroke-width="0.15">74</text>
<text x="1401.66" y="645.58" font-size="21" fill="#4f4f4f" text-anchor="end" textLength="22.4" lengthAdjust="spacing" stroke="#fff" stroke-width="0.15">19</text>
<text x="1529.18" y="645.58" font-size="21" fill="#4f4f4f" text-anchor="end" textLength="22.4" lengthAdjust="spacing" stroke="#fff" stroke-width="0.15">18</text>
<text x="1911.74" y="645.58" font-size="21" fill="#4f4f4f" text-anchor="end" textLength="22.4" lengthAdjust="spacing" stroke="#fff" stroke-width="0.15">28</text>
<text x="2039.26" y="645.58" font-size="21" fill="#4f4f4f" text-anchor="end" textLength="22.4" lengthAdjust="spacing" stroke="#fff" stroke-width="0.15">37</text>
<text x="2166.78" y="645.58" font-size="21" fill="#4f4f4f" text-anchor="end" textLength="22.4" lengthAdjust="spacing" stroke="#fff" stroke-width="0.15">75</text>
<text x="2421.82" y="645.58" font-size="21" fill="#4f4f4f" text-anchor="end" textLength="22.4" lengthAdjust="spacing" stroke="#fff" stroke-width="0.15">83</text>
<text x="2549.1" y="645.58" font-size="20.4" fill="#333" text-anchor="end" textLength="33.6" lengthAdjust="spacing" stroke="#333" stroke-width="0.36">371</text>
<text x="1019.1" y="673.88" font-size="21" fill="#4f4f4f" text-anchor="end" textLength="51" lengthAdjust="spacing" stroke="#fff" stroke-width="0.15">$7.70</text>
<text x="1146.62" y="673.88" font-size="21" fill="#4f4f4f" text-anchor="end" textLength="51" lengthAdjust="spacing" stroke="#fff" stroke-width="0.15">$7.69</text>
<text x="1401.66" y="673.88" font-size="21" fill="#4f4f4f" text-anchor="end" textLength="51" lengthAdjust="spacing" stroke="#fff" stroke-width="0.15">$7.71</text>
<text x="1529.18" y="673.88" font-size="21" fill="#4f4f4f" text-anchor="end" textLength="51" lengthAdjust="spacing" stroke="#fff" stroke-width="0.15">$7.98</text>
<text x="1911.74" y="673.88" font-size="21" fill="#4f4f4f" text-anchor="end" textLength="51" lengthAdjust="spacing" stroke="#fff" stroke-width="0.15">$7.97</text>
<text x="2039.26" y="673.88" font-size="21" fill="#4f4f4f" text-anchor="end" textLength="51" lengthAdjust="spacing" stroke="#fff" stroke-width="0.15">$8.01</text>
<text x="2166.78" y="673.88" font-size="21" fill="#4f4f4f" text-anchor="end" textLength="51" lengthAdjust="spacing" stroke="#fff" stroke-width="0.15">$7.81</text>
<text x="2421.82" y="673.88" font-size="21" fill="#4f4f4f" text-anchor="end" textLength="51" lengthAdjust="spacing" stroke="#fff" stroke-width="0.15">$7.98</text>
<text x="2549.1" y="673.88" font-size="20.4" fill="#333" text-anchor="end" textLength="51" lengthAdjust="spacing" stroke="#333" stroke-width="0.36">$7.85</text>
<text x="1274.14" y="702.94" font-size="21" fill="#4f4f4f" text-anchor="end" textLength="51.5" lengthAdjust="spacing" stroke="#f5f5f5" stroke-width="0.15">1,553</text>
<text x="1401.66" y="702.94" font-size="21" fill="#4f4f4f" text-anchor="end" textLength="33.6" lengthAdjust="spacing" stroke="#f5f5f5" stroke-width="0.15">755</text>
<text x="1529.18" y="702.94" font-size="21" fill="#4f4f4f" text-anchor="end" textLength="51.5" lengthAdjust="spacing" stroke="#f5f5f5" stroke-width="0.15">8,827</text>
<text x="1656.7" y="702.94" font-size="21" fill="#4f4f4f" text-anchor="end" textLength="51.5" lengthAdjust="spacing" stroke="#f5f5f5" stroke-width="0.15">2,280</text>
<text x="1784.22" y="702.94" font-size="21" fill="#4f4f4f" text-anchor="end" textLength="33.6" lengthAdjust="spacing" stroke="#f5f5f5" stroke-width="0.15">445</text>
<text x="1911.74" y="702.94" font-size="21" fill="#4f4f4f" text-anchor="end" textLength="22.4" lengthAdjust="spacing" stroke="#f5f5f5" stroke-width="0.15">99</text>
<text x="2039.26" y="702.94" font-size="21" fill="#4f4f4f" text-anchor="end" textLength="33.6" lengthAdjust="spacing" stroke="#f5f5f5" stroke-width="0.15">199</text>
<text x="2549.1" y="702.94" font-size="20.4" fill="#333" text-anchor="end" textLength="62.7" lengthAdjust="spacing" stroke="#333" stroke-width="0.36">14,158</text>
<text x="1274.14" y="731.24" font-size="21" fill="#4f4f4f" text-anchor="end" textLength="62.2" lengthAdjust="spacing" stroke="#f5f5f5" stroke-width="0.15">$11.14</text>
<text x="1401.66" y="731.24" font-size="21" fill="#4f4f4f" text-anchor="end" textLength="62.2" lengthAdjust="spacing" stroke="#f5f5f5" stroke-width="0.15">$11.44</text>
<text x="1529.18" y="731.24" font-size="21" fill="#4f4f4f" text-anchor="end" textLength="62.2" lengthAdjust="spacing" stroke="#f5f5f5" stroke-width="0.15">$23.17</text>
<text x="1656.7" y="731.24" font-size="21" fill="#4f4f4f" text-anchor="end" textLength="62.2" lengthAdjust="spacing" stroke="#f5f5f5" stroke-width="0.15">$11.55</text>
<text x="1784.22" y="731.24" font-size="21" fill="#4f4f4f" text-anchor="end" textLength="62.2" lengthAdjust="spacing" stroke="#f5f5f5" stroke-width="0.15">$11.70</text>
<text x="1911.74" y="731.24" font-size="21" fill="#4f4f4f" text-anchor="end" textLength="62.2" lengthAdjust="spacing" stroke="#f5f5f5" stroke-width="0.15">$11.64</text>
<text x="2039.26" y="731.24" font-size="21" fill="#4f4f4f" text-anchor="end" textLength="62.2" lengthAdjust="spacing" stroke="#f5f5f5" stroke-width="0.15">$11.58</text>
<text x="2549.1" y="731.24" font-size="20.4" fill="#333" text-anchor="end" textLength="62.2" lengthAdjust="spacing" stroke="#333" stroke-width="0.36">$18.75</text>
<text x="1529.18" y="760.3" font-size="21" fill="#4f4f4f" text-anchor="end" textLength="33.6" lengthAdjust="spacing" stroke="#fff" stroke-width="0.15">590</text>
<text x="2549.1" y="760.3" font-size="20.4" fill="#333" text-anchor="end" textLength="33.6" lengthAdjust="spacing" stroke="#333" stroke-width="0.36">590</text>
<text x="1529.18" y="788.6" font-size="21" fill="#4f4f4f" text-anchor="end" textLength="62.2" lengthAdjust="spacing" stroke="#fff" stroke-width="0.15">$42.03</text>
<text x="2549.1" y="788.6" font-size="20.4" fill="#333" text-anchor="end" textLength="62.2" lengthAdjust="spacing" stroke="#333" stroke-width="0.36">$42.03</text>
<text x="1019.1" y="817.66" font-size="20.4" fill="#333" text-anchor="end" textLength="91.8" lengthAdjust="spacing" stroke="#333" stroke-width="0.36">3,581,190</text>
<text x="1146.62" y="817.66" font-size="20.4" fill="#333" text-anchor="end" textLength="91.8" lengthAdjust="spacing" stroke="#333" stroke-width="0.36">3,123,094</text>
<text x="1274.14" y="817.66" font-size="20.4" fill="#333" text-anchor="end" textLength="91.8" lengthAdjust="spacing" stroke="#333" stroke-width="0.36">2,803,887</text>
<text x="1401.66" y="817.66" font-size="20.4" fill="#333" text-anchor="end" textLength="91.8" lengthAdjust="spacing" stroke="#333" stroke-width="0.36">3,434,611</text>
<text x="1529.18" y="817.66" font-size="20.4" fill="#333" text-anchor="end" textLength="91.8" lengthAdjust="spacing" stroke="#333" stroke-width="0.36">2,099,874</text>
<text x="1656.7" y="817.66" font-size="20.4" fill="#333" text-anchor="end" textLength="91.8" lengthAdjust="spacing" stroke="#333" stroke-width="0.36">3,511,675</text>
<text x="1784.22" y="817.66" font-size="20.4" fill="#333" text-anchor="end" textLength="91.8" lengthAdjust="spacing" stroke="#333" stroke-width="0.36">4,245,018</text>
<text x="1911.74" y="817.66" font-size="20.4" fill="#333" text-anchor="end" textLength="91.8" lengthAdjust="spacing" stroke="#333" stroke-width="0.36">4,095,394</text>
<text x="2039.26" y="817.66" font-size="20.4" fill="#333" text-anchor="end" textLength="91.8" lengthAdjust="spacing" stroke="#333" stroke-width="0.36">4,126,547</text>
<text x="2166.78" y="817.66" font-size="20.4" fill="#333" text-anchor="end" textLength="91.8" lengthAdjust="spacing" stroke="#333" stroke-width="0.36">4,419,621</text>
<text x="2294.3" y="817.66" font-size="20.4" fill="#333" text-anchor="end" textLength="91.8" lengthAdjust="spacing" stroke="#333" stroke-width="0.36">3,315,171</text>
<text x="2421.82" y="817.66" font-size="20.4" fill="#333" text-anchor="end" textLength="91.8" lengthAdjust="spacing" stroke="#333" stroke-width="0.36">3,668,352</text>
<text x="2549.1" y="817.66" font-size="20.4" fill="#333" text-anchor="end" textLength="103" lengthAdjust="spacing" stroke="#333" stroke-width="0.36">42,424,434</text>
<text x="1019.1" y="845.96" font-size="20.4" fill="#333" text-anchor="end" textLength="51" lengthAdjust="spacing" stroke="#333" stroke-width="0.36">$3.66</text>
<text x="1146.62" y="845.96" font-size="20.4" fill="#333" text-anchor="end" textLength="51" lengthAdjust="spacing" stroke="#333" stroke-width="0.36">$5.14</text>
<text x="1274.14" y="845.96" font-size="20.4" fill="#333" text-anchor="end" textLength="51" lengthAdjust="spacing" stroke="#333" stroke-width="0.36">$4.81</text>
<text x="1401.66" y="845.96" font-size="20.4" fill="#333" text-anchor="end" textLength="51" lengthAdjust="spacing" stroke="#333" stroke-width="0.36">$4.80</text>
<text x="1529.18" y="845.96" font-size="20.4" fill="#333" text-anchor="end" textLength="51" lengthAdjust="spacing" stroke="#333" stroke-width="0.36">$4.68</text>
<text x="1656.7" y="845.96" font-size="20.4" fill="#333" text-anchor="end" textLength="51" lengthAdjust="spacing" stroke="#333" stroke-width="0.36">$4.97</text>
<text x="1784.22" y="845.96" font-size="20.4" fill="#333" text-anchor="end" textLength="51" lengthAdjust="spacing" stroke="#333" stroke-width="0.36">$5.04</text>
<text x="1911.74" y="845.96" font-size="20.4" fill="#333" text-anchor="end" textLength="51" lengthAdjust="spacing" stroke="#333" stroke-width="0.36">$5.23</text>
<text x="2039.26" y="845.96" font-size="20.4" fill="#333" text-anchor="end" textLength="51" lengthAdjust="spacing" stroke="#333" stroke-width="0.36">$4.90</text>
<text x="2166.78" y="845.96" font-size="20.4" fill="#333" text-anchor="end" textLength="51" lengthAdjust="spacing" stroke="#333" stroke-width="0.36">$5.03</text>
<text x="2294.3" y="845.96" font-size="20.4" fill="#333" text-anchor="end" textLength="51" lengthAdjust="spacing" stroke="#333" stroke-width="0.36">$5.38</text>
<text x="2421.82" y="845.96" font-size="20.4" fill="#333" text-anchor="end" textLength="51" lengthAdjust="spacing" stroke="#333" stroke-width="0.36">$5.56</text>
<text x="2549.1" y="845.96" font-size="20.4" fill="#333" text-anchor="end" textLength="51" lengthAdjust="spacing" stroke="#333" stroke-width="0.36">$4.95</text>
</svg>
</body></html>
